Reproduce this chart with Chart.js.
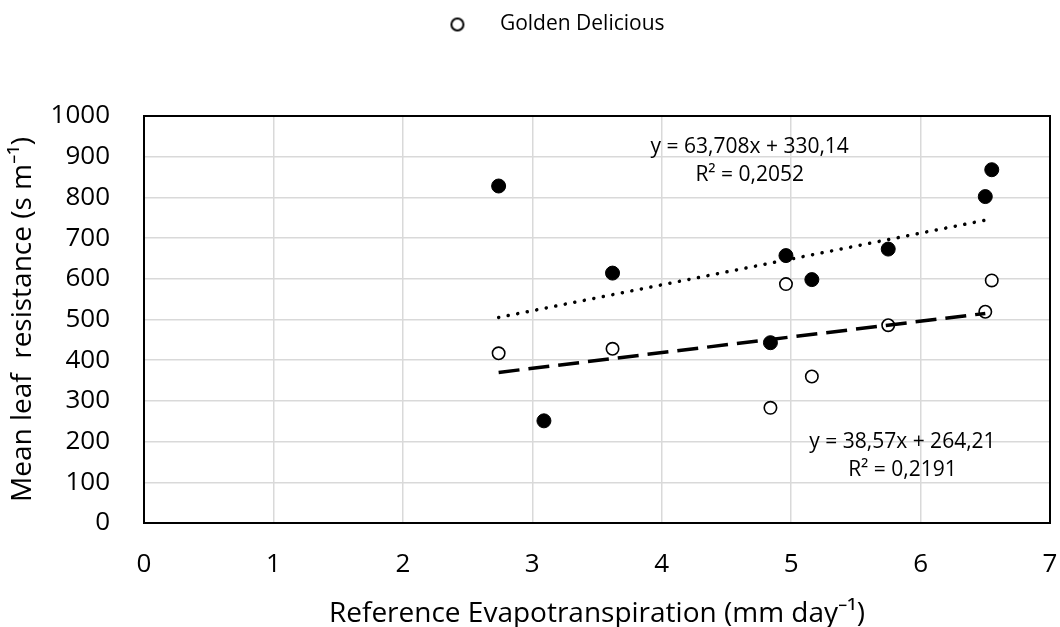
<!DOCTYPE html>
<html>
<head>
<meta charset="utf-8">
<script src="https://cdn.jsdelivr.net/npm/chart.js@4/dist/chart.umd.min.js"></script>
<style>
  html, body { margin: 0; padding: 0; background: #fff; }
  #wrap { width: 1060px; height: 627px; }
</style>
</head>
<body>
<div id="wrap"><canvas id="c" width="1060" height="627"></canvas></div>
<script>
// valores
const etFilled = [2.74, 3.09, 3.62, 4.84, 4.96, 5.16, 5.75, 6.50, 6.55];
const rsFilled = [828, 251, 614, 443, 657, 598, 673, 802, 868];
const etOpen = [2.74, 3.62, 4.84, 4.96, 5.16, 5.75, 6.50, 6.55];
const rsOpen = [417, 428, 283, 587, 360, 486, 519, 596];

// lineas de tendencia (extremos)
const trendFilledX = [2.74, 6.50];
const trendFilledY = [505, 744];
const trendOpenX = [2.74, 6.50];
const trendOpenY = [370, 515];

const eqLabels = [
  { x: 4.68, y1: 924, y2: 855, l1: 'y = 63,708x + 330,14', l2: 'R² = 0,2052' },
  { x: 5.86, y1: 199, y2: 130, l1: 'y = 38,57x + 264,21', l2: 'R² = 0,2191' }
];

const FONT = "'Open Sans', sans-serif";

const pts = (xs, ys) => xs.map((v, i) => ({ x: v, y: ys[i] }));

// icono de la leyenda (circulo vacio desplazado)
const legIcon = document.createElement('canvas');
legIcon.width = 104; legIcon.height = 18;
(function() {
  const g = legIcon.getContext('2d');
  g.strokeStyle = '#000'; g.lineWidth = 2;
  g.beginPath(); g.arc(72, 9, 6, 0, Math.PI * 2); g.stroke();
})();

const legendSpace = {
  id: 'legendSpace',
  beforeInit(chart) {
    const fit = chart.legend.fit;
    chart.legend.fit = function() { fit.call(this); this.height = 116; };
  }
};

const frame = {
  id: 'frame',
  beforeDatasetsDraw(chart) {
    const a = chart.chartArea, ctx = chart.ctx;
    ctx.save();
    ctx.strokeStyle = '#000'; ctx.lineWidth = 2;
    ctx.strokeRect(a.left, a.top, a.right - a.left, a.bottom - a.top);
    ctx.restore();
  }
};

const eqText = {
  id: 'eqText',
  afterDatasetsDraw(chart) {
    const ctx = chart.ctx, sx = chart.scales.x, sy = chart.scales.y;
    ctx.save();
    ctx.fillStyle = '#000';
    ctx.font = "21px " + FONT;
    ctx.textAlign = 'center'; ctx.textBaseline = 'middle';
    eqLabels.forEach(e => {
      ctx.fillText(e.l1, sx.getPixelForValue(e.x), sy.getPixelForValue(e.y1));
      ctx.fillText(e.l2, sx.getPixelForValue(e.x), sy.getPixelForValue(e.y2));
    });
    ctx.restore();
  }
};

new Chart(document.getElementById('c'), {
  type: 'scatter',
  data: {
    datasets: [
      { label: 'trend1', type: 'line', data: pts(trendFilledX, trendFilledY),
        borderColor: '#000', borderWidth: 3.5, borderDash: [0.1, 9.6], borderCapStyle: 'round',
        pointRadius: 0, fill: false, showLine: true },
      { label: 'trend2', type: 'line', data: pts(trendOpenX, trendOpenY),
        borderColor: '#000', borderWidth: 3.5, borderDash: [21, 9],
        pointRadius: 0, fill: false, showLine: true },
      { label: 'Golden Delicious', data: pts(etOpen, rsOpen),
        pointStyle: 'circle', backgroundColor: '#fff', borderColor: '#000',
        pointBorderWidth: 1.6, pointRadius: 6.2 },
      { label: 'filled', data: pts(etFilled, rsFilled),
        pointStyle: 'circle', backgroundColor: '#000', borderColor: '#000',
        pointRadius: 7 }
    ]
  },
  options: {
    responsive: false,
    animation: false,
    layout: { autoPadding: false, padding: { left: 0, right: 10, top: 0, bottom: 0 } },
    plugins: {
      tooltip: { enabled: false },
      legend: {
        position: 'top',
        labels: {
          usePointStyle: true,
          pointStyleWidth: 104,
          padding: 14,
          color: '#000',
          font: { family: FONT, size: 21 },
          filter: item => item.text === 'Golden Delicious',
          generateLabels: chart => chart.data.datasets.map((d, i) => ({
            text: d.label, datasetIndex: i, pointStyle: legIcon,
            fillStyle: '#fff', strokeStyle: '#000', lineWidth: 2, hidden: false
          }))
        }
      }
    },
    scales: {
      x: {
        type: 'linear', min: 0, max: 7,
        afterFit: s => { s.height = 104; s.paddingLeft = 0; s.paddingRight = 0; },
        ticks: { stepSize: 1, padding: 26, color: '#000', font: { family: FONT, size: 26 } },
        grid: { color: '#d9d9d9', lineWidth: 1.5, drawTicks: false },
        border: { color: '#000', width: 2 },
        title: { display: true, text: 'Reference Evapotranspiration (mm day⁻¹)', color: '#000',
                 font: { family: FONT, size: 28 }, padding: { top: 0, bottom: -4 } }
      },
      y: {
        min: 0, max: 1000,
        afterFit: s => { s.width = 144; },
        ticks: { stepSize: 100, padding: 34, color: '#000', font: { family: FONT, size: 26 },
                 callback: v => String(v) },
        grid: { color: '#d9d9d9', lineWidth: 1.5, drawTicks: false },
        border: { color: '#000', width: 2 },
        title: { display: true, text: 'Mean leaf  resistance (s m⁻¹)', color: '#000',
                 font: { family: FONT, size: 28 }, padding: { top: 6, bottom: 0 } }
      }
    }
  },
  plugins: [legendSpace, frame, eqText]
});
</script>
</body>
</html>
